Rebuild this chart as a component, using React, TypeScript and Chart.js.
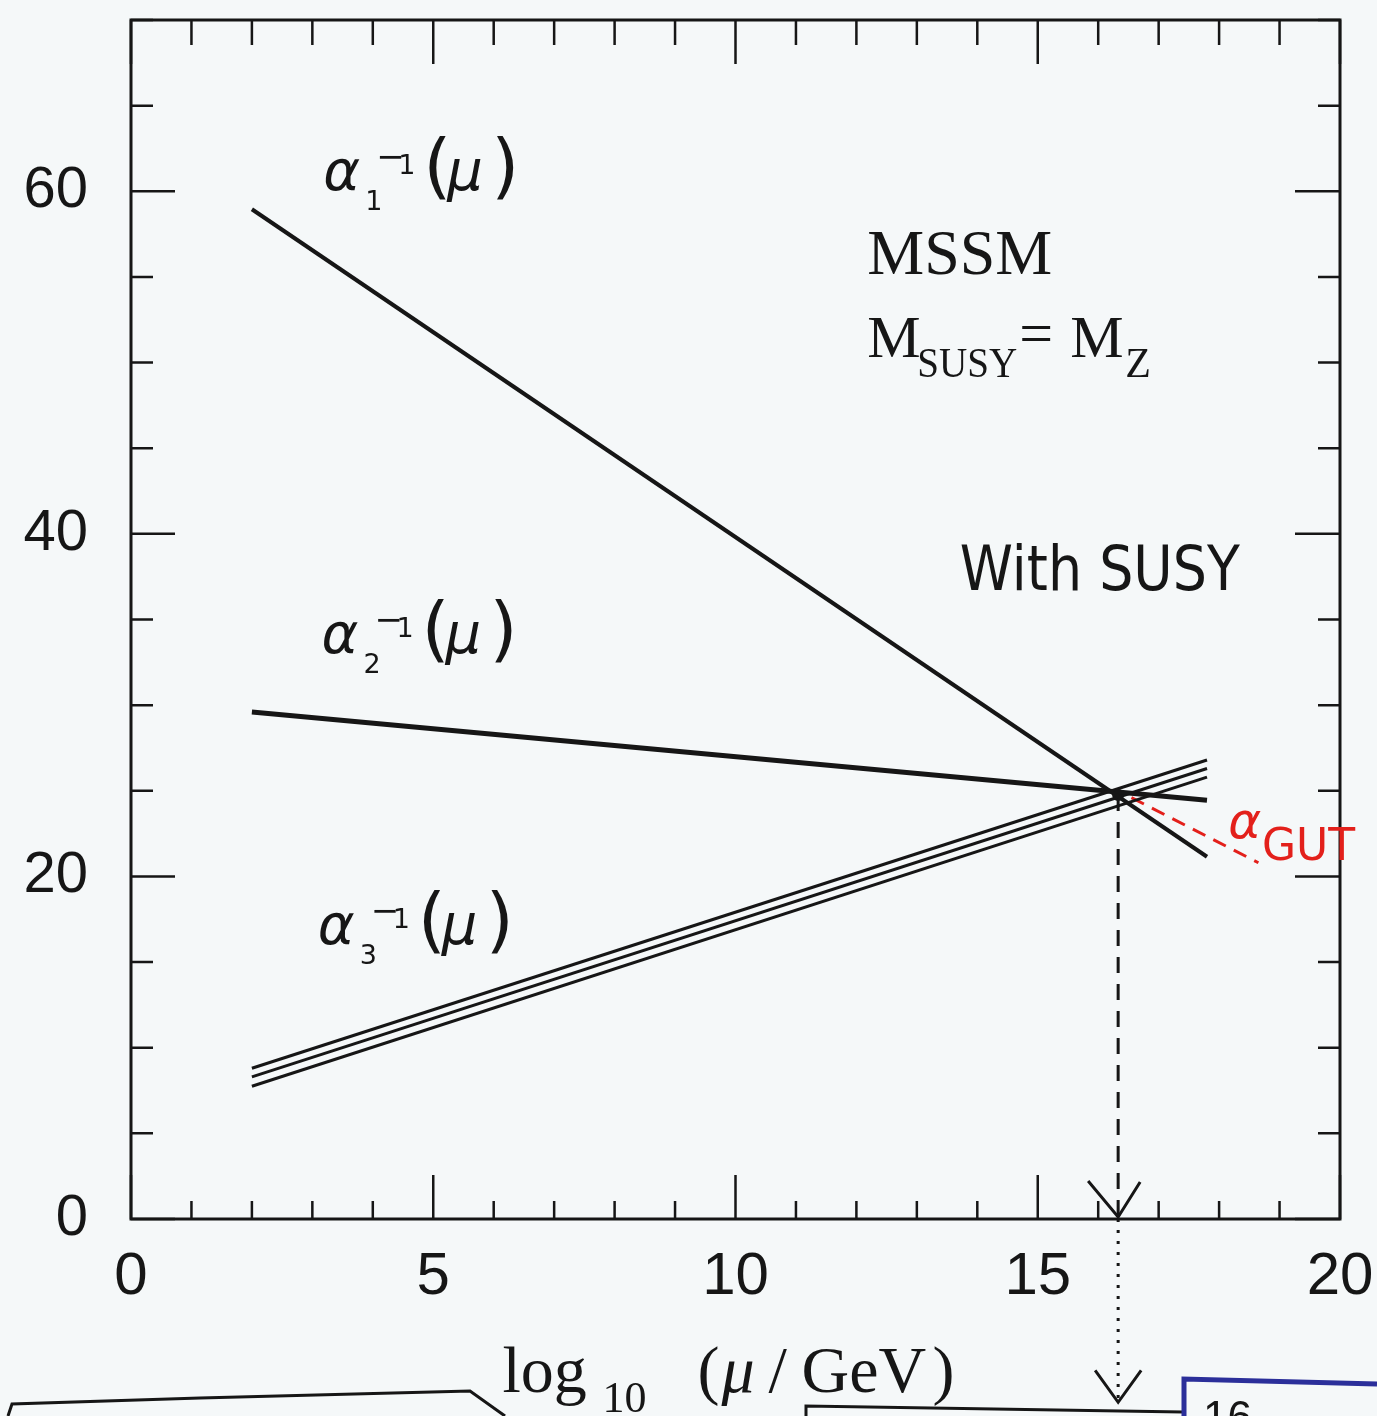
import React, { useEffect, useRef } from 'react';
import { Chart, registerables } from 'chart.js';

Chart.register(...registerables);

// ---- data ----
const xRange = [2, 17.8]; // log10(mu/GeV) where the curves start/end
const alpha1Inv = [58.95, 21.15];
const alpha2Inv = [29.6, 24.45];
const alpha3InvUpper = [8.8, 26.8];
const alpha3InvMid = [8.3, 26.3];
const alpha3InvLower = [7.75, 25.8];
const unifX = [16.33];
const unifY = [24.75];
const dropDashedY = [24.75, 0];
const dropDottedY = [0, -10.7];
const gutRedX = [16.55, 18.65];
const gutRedY = [24.6, 20.8];
const xTickLabels = [0, 5, 10, 15, 20];
const yTickLabels = [0, 20, 40, 60];
const curveLabels = [
  { sub: '1', x: 3.18, y: 60.07 },
  { sub: '2', x: 3.15, y: 33.04 },
  { sub: '3', x: 3.09, y: 16.05 },
];

const INK = '#161616';
const RED = '#e3201b';

const pts = (xs: number[], ys: number[]) => xs.map((x, i) => ({ x, y: ys[i] }));

const decor = {
  id: 'decor',
  afterDraw(chart: any) {
    const { ctx, chartArea: a, scales } = chart;
    const xs = scales.x;
    const ys = scales.y;
    const px = (v: number) => xs.getPixelForValue(v);
    const py = (v: number) => ys.getPixelForValue(v);
    ctx.save();
    ctx.strokeStyle = INK;
    ctx.fillStyle = INK;
    // frame
    ctx.lineWidth = 3;
    ctx.strokeRect(a.left, a.top, a.right - a.left, a.bottom - a.top);
    // inward ticks
    ctx.lineWidth = 2.5;
    ctx.beginPath();
    for (let v = 0; v <= 20; v += 1) {
      const x = px(v);
      const major = v % 5 === 0;
      ctx.moveTo(x, a.bottom);
      ctx.lineTo(x, a.bottom - (major ? 44 : 18));
      ctx.moveTo(x, a.top);
      ctx.lineTo(x, a.top + (major ? 44 : 25));
    }
    for (let v = 0; v <= 70; v += 5) {
      const y = py(v);
      const major = v % 20 === 0;
      ctx.moveTo(a.left, y);
      ctx.lineTo(a.left + (major ? 44 : 22), y);
      ctx.moveTo(a.right, y);
      ctx.lineTo(a.right - (major ? 45 : 22), y);
    }
    ctx.stroke();

    // arrow heads on the unification line
    const ux = px(unifX[0]);
    ctx.lineWidth = 3;
    ctx.beginPath();
    ctx.moveTo(ux - 30, a.bottom - 38);
    ctx.lineTo(ux, a.bottom - 2);
    ctx.lineTo(ux + 22, a.bottom - 37);
    const tip = py(dropDottedY[1]);
    ctx.moveTo(ux - 23, tip - 32);
    ctx.lineTo(ux, tip);
    ctx.lineTo(ux + 23, tip - 32);
    ctx.stroke();

    // curve labels alpha_i^{-1}(mu)
    ctx.textBaseline = 'alphabetic';
    ctx.textAlign = 'left';
    for (const l of curveLabels) {
      const x = px(l.x);
      const y = py(l.y);
      ctx.font = 'italic 56px "DejaVu Sans"';
      ctx.fillText('α', x, y);
      ctx.font = '27px "DejaVu Sans"';
      ctx.fillText(l.sub, x + 42, y + 20);
      ctx.font = '34px "DejaVu Sans"';
      ctx.fillText('−', x + 53, y - 22);
      ctx.font = '27px "DejaVu Sans"';
      ctx.fillText('1', x + 75, y - 16);
      ctx.font = '72px "DejaVu Sans"';
      ctx.fillText('(', x + 100, y);
      ctx.font = 'italic 56px "DejaVu Sans"';
      ctx.fillText('μ', x + 124, y);
      ctx.font = '72px "DejaVu Sans"';
      ctx.fillText(')', x + 168, y);
    }

    // MSSM annotation
    const mx = px(12.18);
    ctx.font = '64px "Liberation Serif"';
    ctx.fillText('MSSM', mx, py(55.2));
    const my = py(50.3);
    ctx.font = '60px "Liberation Serif"';
    ctx.fillText('M', mx, my);
    ctx.font = '42px "Liberation Serif"';
    ctx.fillText('SUSY', mx + 50, my + 20, 100);
    ctx.font = '60px "Liberation Serif"';
    ctx.fillText('=', mx + 152, my - 4);
    ctx.fillText('M', mx + 203, my);
    ctx.font = '42px "Liberation Serif"';
    ctx.fillText('Z', mx + 258, my + 20);

    // handwritten note
    ctx.font = '62px "DejaVu Sans"';
    ctx.fillText('With SUSY', px(13.71), py(36.72), 280);

    // alpha_GUT in red
    ctx.fillStyle = RED;
    ctx.font = 'italic 50px "DejaVu Sans"';
    ctx.fillText('α', px(18.15), py(22.24));
    ctx.font = '44px "DejaVu Sans"';
    ctx.fillText('GUT', px(18.71), py(20.96), 98);
    ctx.fillStyle = INK;

    // x-axis title: log10 (mu/GeV), pieces placed from the chart centre
    const cx = (a.left + a.right) / 2;
    const base = 1392;
    const serif = '"Liberation Serif"';
    const parts = [
      { t: 'log', f: `66px ${serif}`, dx: -233, dy: 0, w: 92 },
      { t: '10', f: `44px ${serif}`, dx: -133, dy: 20, w: 50 },
      { t: '(', f: `66px ${serif}`, dx: -38, dy: 0, w: 22 },
      { t: 'μ', f: `italic 66px ${serif}`, dx: -14, dy: 0, w: 38 },
      { t: '/', f: `66px ${serif}`, dx: 33, dy: 0, w: 27 },
      { t: 'GeV', f: `66px ${serif}`, dx: 66, dy: 0, w: 128 },
      { t: ')', f: `66px ${serif}`, dx: 197, dy: 0, w: 24 },
    ];
    for (const p of parts) {
      ctx.font = p.f;
      ctx.fillText(p.t, cx + p.dx, base + p.dy, p.w);
    }

    // fragments of the neighbouring page at the bottom edge
    ctx.lineWidth = 3;
    ctx.beginPath();
    ctx.moveTo(8, 1416);
    ctx.lineTo(12, 1404);
    ctx.lineTo(200, 1398);
    ctx.lineTo(470, 1391);
    ctx.lineTo(505, 1416);
    ctx.moveTo(806, 1416);
    ctx.lineTo(806, 1406);
    ctx.lineTo(1183, 1412);
    ctx.stroke();
    ctx.strokeStyle = '#2b2f9a';
    ctx.lineWidth = 5;
    ctx.beginPath();
    ctx.moveTo(1184, 1416);
    ctx.lineTo(1184, 1379);
    ctx.lineTo(1377, 1384);
    ctx.stroke();
    ctx.font = '44px "Liberation Sans"';
    ctx.fillText('16', 1203, 1432);
    ctx.restore();
  },
};

export default function App() {
  const ref = useRef<HTMLCanvasElement | null>(null);
  useEffect(() => {
    if (!ref.current) return;
    const line = (data: any[], width: number, extra: any = {}) => ({
      data,
      borderColor: INK,
      backgroundColor: INK,
      borderWidth: width,
      pointRadius: 0,
      fill: false,
      tension: 0,
      ...extra,
    });
    const chart = new Chart(ref.current, {
      type: 'line',
      data: {
        datasets: [
          line(pts(xRange, alpha1Inv), 4),
          line(pts(xRange, alpha2Inv), 5),
          line(pts(xRange, alpha3InvUpper), 3),
          line(pts(xRange, alpha3InvMid), 3),
          line(pts(xRange, alpha3InvLower), 3),
          line(pts([unifX[0], unifX[0]], dropDashedY), 3, { borderDash: [16, 11] }),
          line(pts([unifX[0], unifX[0]], dropDottedY), 3, { borderDash: [3, 8], clip: false }),
          line(pts(gutRedX, gutRedY), 3, { borderColor: RED, borderDash: [14, 9] }),
          line(pts(unifX, unifY), 0, { showLine: false, pointRadius: 6, pointBackgroundColor: INK }),
        ],
      },
      options: {
        responsive: false,
        animation: false,
        devicePixelRatio: 1,
        layout: { padding: { left: 0, right: 37, top: 20, bottom: 0 } },
        plugins: { legend: { display: false }, tooltip: { enabled: false }, title: { display: false } },
        scales: {
          x: {
            type: 'linear',
            min: 0,
            max: 20,
            grid: { display: false, drawTicks: false },
            border: { display: false },
            ticks: {
              stepSize: 1,
              autoSkip: false,
              maxRotation: 0,
              padding: 22,
              color: INK,
              font: { family: 'Liberation Sans', size: 60 },
              callback: (v: any) => (xTickLabels.includes(Number(v)) ? String(v) : ''),
            },
            afterFit: (s: any) => {
              s.height = 197;
              s.paddingLeft = 0;
              s.paddingRight = 0;
              s.paddingTop = 0;
              s.paddingBottom = 0;
            },
          },
          y: {
            type: 'linear',
            min: 0,
            max: 70,
            grid: { display: false, drawTicks: false },
            border: { display: false },
            ticks: {
              stepSize: 5,
              autoSkip: false,
              padding: 43,
              color: INK,
              font: { family: 'Liberation Sans', size: 58 },
              callback: (v: any) => (yTickLabels.includes(Number(v)) ? String(v) : ''),
            },
            afterFit: (s: any) => {
              s.width = 131;
              s.paddingLeft = 0;
              s.paddingRight = 0;
              s.paddingTop = 0;
              s.paddingBottom = 0;
            },
          },
        },
      },
      plugins: [decor],
    });
    return () => chart.destroy();
  }, []);
  return (
    <div style={{ position: 'absolute', left: 0, top: 0, width: 1377, height: 1416, background: '#f5f8f9', overflow: 'hidden' }}>
      <canvas ref={ref} width={1377} height={1416} style={{ width: 1377, height: 1416, display: 'block' }} />
    </div>
  );
}
